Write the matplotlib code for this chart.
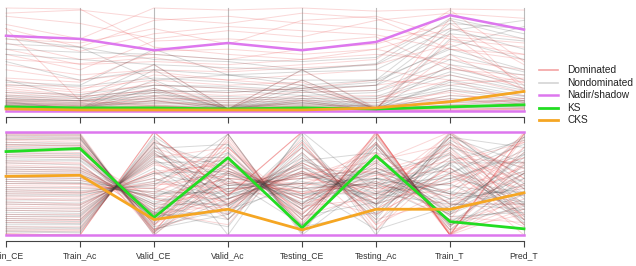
import matplotlib
matplotlib.use("Agg")
import matplotlib.pyplot as plt
from matplotlib.lines import Line2D

plt.rcParams['font.family'] = ['Liberation Sans', 'DejaVu Sans']

axes_names = ["Train_CE", "Train_Ac", "Valid_CE", "Valid_Ac",
              "Testing_CE", "Testing_Ac", "Train_T", "Pred_T"]

# ---------------- top panel (scaled raw values) ----------------
top_dominated = [
    [1.00, 0.99, 0.62, 0.55, 0.50, 0.60, 0.80, 0.70],
    [0.92, 0.85, 0.70, 0.78, 0.72, 0.88, 0.95, 0.90],
    [0.84, 0.70, 1.00, 0.98, 1.00, 0.97, 0.99, 0.98],
    [0.80, 0.62, 0.88, 0.92, 0.85, 0.80, 0.70, 0.62],
    [0.74, 0.58, 0.75, 0.82, 0.78, 0.74, 0.60, 0.55],
    [0.66, 0.50, 0.55, 0.50, 0.60, 0.65, 0.85, 0.45],
    [0.60, 0.45, 0.48, 0.45, 0.50, 0.55, 0.50, 0.40],
    [0.55, 0.40, 0.68, 0.70, 0.66, 0.72, 0.40, 0.35],
    [0.45, 0.35, 0.40, 0.38, 0.42, 0.45, 0.65, 0.30],
    [0.40, 0.30, 0.38, 0.30, 0.35, 0.40, 0.30, 0.28],
    [0.32, 0.28, 0.58, 0.60, 0.55, 0.60, 0.45, 0.22],
    [0.30, 0.22, 0.30, 0.25, 0.28, 0.02, 0.75, 0.25],
    [0.26, 0.20, 0.45, 0.02, 0.40, 0.03, 0.55, 0.20],
    [0.24, 0.18, 0.25, 0.22, 0.20, 0.25, 0.35, 0.18],
    [0.22, 0.15, 0.35, 0.30, 0.25, 0.02, 0.20, 0.15],
    [0.20, 0.14, 0.20, 0.18, 0.22, 0.30, 0.25, 0.32],
    [0.18, 0.12, 0.28, 0.02, 0.30, 0.02, 0.15, 0.12],
    [0.16, 0.10, 0.18, 0.15, 0.18, 0.20, 0.42, 0.28],
    [0.14, 0.09, 0.22, 0.02, 0.10, 0.01, 0.90, 0.20],
    [0.12, 0.08, 0.15, 0.12, 0.14, 0.15, 0.10, 0.10],
    [0.11, 0.07, 0.12, 0.10, 0.12, 0.12, 0.30, 0.08],
    [0.10, 0.06, 0.10, 0.02, 0.08, 0.01, 0.05, 0.12],
    [0.09, 0.05, 0.14, 0.08, 0.10, 0.08, 0.18, 0.06],
    [0.08, 0.05, 0.08, 0.06, 0.06, 0.05, 0.08, 0.10],
    [0.07, 0.04, 0.06, 0.02, 0.05, 0.02, 0.12, 0.05],
    [0.06, 0.04, 0.10, 0.05, 0.04, 0.01, 0.02, 0.08],
    [0.05, 0.03, 0.05, 0.03, 0.03, 0.03, 0.06, 0.04],
    [0.04, 0.03, 0.04, 0.02, 0.02, 0.01, 0.01, 0.03],
    [0.04, 0.02, 0.03, 0.02, 0.02, 0.02, 0.03, 0.02],
    [0.03, 0.02, 0.03, 0.01, 0.01, 0.01, 0.01, 0.02],
    [0.80, 0.10, 0.05, 0.02, 0.04, 0.02, 0.68, 0.55],
    [0.95, 0.98, 0.90, 0.85, 0.95, 0.90, 0.60, 0.50],
    [0.70, 0.66, 0.80, 0.65, 0.88, 0.92, 0.72, 0.66],
    [0.50, 0.46, 0.52, 0.40, 0.45, 0.50, 0.98, 0.48],
    [0.03, 0.01, 0.02, 0.01, 0.02, 0.01, 0.00, 0.01],
    [0.05, 0.02, 0.04, 0.02, 0.03, 0.02, 0.00, 0.02],
]
top_nondominated = [
    [0.65, 0.62, 0.30, 0.35, 0.30, 0.30, 0.85, 0.80],
    [0.60, 0.57, 0.55, 0.50, 0.48, 0.52, 0.88, 0.70],
    [0.55, 0.50, 0.45, 0.42, 0.40, 0.45, 0.80, 0.60],
    [0.48, 0.30, 0.40, 0.35, 0.38, 0.40, 0.75, 0.68],
    [0.30, 0.12, 0.45, 0.02, 0.40, 0.02, 0.70, 0.50],
    [0.28, 0.25, 0.60, 0.35, 0.25, 0.30, 0.60, 0.40],
    [0.25, 0.24, 0.32, 0.28, 0.22, 0.25, 0.55, 0.38],
    [0.18, 0.16, 0.25, 0.22, 0.18, 0.20, 0.50, 0.30],
    [0.15, 0.14, 0.20, 0.02, 0.30, 0.02, 0.45, 0.35],
    [0.14, 0.12, 0.18, 0.20, 0.15, 0.18, 0.42, 0.25],
    [0.12, 0.10, 0.15, 0.14, 0.12, 0.14, 0.38, 0.22],
    [0.10, 0.10, 0.12, 0.12, 0.10, 0.12, 0.35, 0.20],
    [0.09, 0.02, 0.40, 0.02, 0.20, 0.02, 0.30, 0.18],
    [0.08, 0.02, 0.22, 0.02, 0.25, 0.02, 0.28, 0.15],
    [0.08, 0.07, 0.10, 0.10, 0.08, 0.10, 0.25, 0.14],
    [0.07, 0.06, 0.08, 0.08, 0.07, 0.08, 0.22, 0.12],
    [0.06, 0.05, 0.07, 0.06, 0.06, 0.06, 0.20, 0.10],
    [0.06, 0.02, 0.30, 0.02, 0.15, 0.02, 0.15, 0.10],
    [0.05, 0.04, 0.05, 0.05, 0.05, 0.05, 0.12, 0.09],
    [0.05, 0.02, 0.18, 0.02, 0.12, 0.02, 0.10, 0.08],
    [0.04, 0.03, 0.04, 0.04, 0.04, 0.04, 0.08, 0.07],
    [0.04, 0.02, 0.14, 0.02, 0.10, 0.01, 0.06, 0.06],
    [0.03, 0.02, 0.03, 0.03, 0.03, 0.03, 0.05, 0.05],
    [0.03, 0.02, 0.10, 0.02, 0.08, 0.01, 0.04, 0.04],
    [0.02, 0.02, 0.02, 0.02, 0.02, 0.02, 0.03, 0.03],
    [0.70, 0.62, 0.50, 0.48, 0.40, 0.46, 0.90, 0.75],
    [0.12, 0.10, 0.25, 0.24, 0.20, 0.25, 0.78, 0.88],
    [0.10, 0.08, 0.20, 0.18, 0.22, 0.28, 0.62, 0.82],
]
top_nadir = [0.73, 0.70, 0.59, 0.66, 0.59, 0.67, 0.93, 0.79]
top_ideal = [0.00, 0.00, 0.00, 0.00, 0.00, 0.00, 0.00, 0.00]
top_ks = [0.04, 0.03, 0.03, 0.02, 0.03, 0.02, 0.04, 0.06]
top_cks = [0.02, 0.01, 0.01, 0.01, 0.01, 0.03, 0.09, 0.19]

# ---------------- bottom panel (min-max normalised) ----------------
bot_dominated = [
    [0.98, 0.97, 0.00, 0.55, 0.20, 0.80, 0.05, 0.70],
    [0.95, 0.94, 0.05, 0.40, 0.70, 0.35, 0.95, 0.20],
    [0.92, 0.90, 0.10, 0.75, 0.15, 0.90, 0.00, 0.95],
    [0.88, 0.86, 0.20, 0.30, 0.85, 0.20, 0.60, 0.45],
    [0.85, 0.84, 0.02, 0.95, 0.05, 0.98, 0.02, 0.30],
    [0.80, 0.78, 0.15, 0.60, 0.40, 0.55, 0.80, 0.10],
    [0.76, 0.75, 0.35, 0.20, 0.90, 0.10, 0.45, 0.65],
    [0.72, 0.70, 0.12, 0.85, 0.25, 0.70, 0.30, 0.85],
    [0.68, 0.66, 0.25, 0.50, 0.55, 0.45, 0.98, 0.55],
    [0.64, 0.63, 0.30, 0.65, 0.35, 0.62, 0.15, 0.05],
    [0.60, 0.60, 0.22, 0.10, 0.95, 0.05, 0.70, 0.90],
    [0.56, 0.55, 0.40, 0.78, 0.20, 0.85, 0.10, 0.35],
    [0.52, 0.50, 0.38, 0.35, 0.60, 0.30, 0.55, 0.75],
    [0.48, 0.47, 0.45, 0.90, 0.10, 0.95, 0.00, 0.50],
    [0.44, 0.42, 0.50, 0.45, 0.45, 0.50, 0.85, 0.15],
    [0.40, 0.40, 0.55, 0.25, 0.80, 0.15, 0.35, 0.98],
    [0.36, 0.35, 0.60, 0.70, 0.30, 0.75, 0.20, 0.60],
    [0.32, 0.30, 0.62, 0.15, 0.75, 0.25, 0.65, 0.25],
    [0.28, 0.27, 0.68, 0.55, 0.50, 0.40, 0.90, 0.40],
    [0.24, 0.23, 0.70, 0.40, 0.65, 0.60, 0.25, 0.80],
    [0.20, 0.20, 0.75, 0.85, 0.15, 0.90, 0.05, 0.20],
    [0.16, 0.15, 0.80, 0.30, 0.70, 0.35, 0.75, 0.70],
    [0.12, 0.12, 0.85, 0.60, 0.40, 0.65, 0.40, 0.08],
    [0.08, 0.08, 0.88, 0.20, 0.90, 0.10, 0.95, 0.45],
    [0.04, 0.04, 0.92, 0.50, 0.60, 0.45, 0.50, 0.90],
    [0.01, 0.00, 1.00, 0.38, 1.00, 1.00, 0.00, 0.98],
    [0.01, 0.00, 1.00, 0.38, 1.00, 1.00, 0.00, 0.98],
    [0.01, 0.00, 1.00, 0.38, 1.00, 1.00, 0.00, 0.98],
    [0.90, 0.88, 0.08, 0.98, 0.02, 1.00, 0.00, 0.60],
    [0.70, 0.69, 0.18, 0.92, 0.08, 1.00, 0.00, 0.25],
    [0.50, 0.49, 0.42, 0.65, 0.25, 0.97, 0.02, 0.85],
    [0.35, 0.33, 0.58, 0.82, 0.12, 0.99, 0.00, 0.40],
    [0.62, 0.62, 0.28, 0.45, 0.50, 0.70, 1.00, 0.15],
    [0.26, 0.25, 0.72, 0.28, 0.85, 0.30, 1.00, 0.55],
    [0.82, 0.80, 0.05, 0.70, 0.30, 0.50, 0.15, 1.00],
    [0.46, 0.45, 0.48, 0.58, 0.38, 0.20, 0.60, 0.00],
    [0.14, 0.14, 0.82, 0.48, 0.55, 0.80, 0.30, 0.30],
    [0.97, 0.96, 0.03, 0.85, 0.18, 0.40, 0.50, 0.75],
    [0.58, 0.57, 0.35, 0.25, 0.68, 0.05, 0.88, 0.65],
    [0.38, 0.37, 0.52, 0.75, 0.22, 0.68, 0.18, 0.12],
    [0.99, 0.99, 0.02, 0.62, 0.35, 0.58, 0.72, 0.48],
    [0.87, 0.87, 0.10, 0.52, 0.42, 0.48, 0.38, 0.62],
    [0.78, 0.76, 0.20, 0.35, 0.58, 0.62, 0.82, 0.28],
    [0.66, 0.65, 0.24, 0.72, 0.28, 0.35, 0.45, 0.92],
    [0.54, 0.53, 0.36, 0.55, 0.48, 0.58, 0.62, 0.18],
    [0.42, 0.41, 0.46, 0.32, 0.62, 0.42, 0.78, 0.52],
    [0.30, 0.29, 0.62, 0.68, 0.40, 0.52, 0.28, 0.68],
    [0.18, 0.17, 0.78, 0.42, 0.58, 0.72, 0.88, 0.38],
    [0.06, 0.05, 0.90, 0.62, 0.45, 0.88, 0.08, 0.72],
    [0.93, 0.92, 0.05, 0.30, 0.62, 0.25, 0.65, 0.10],
]
bot_nondominated = [
    [0.99, 0.98, 0.00, 0.60, 0.30, 0.90, 0.10, 0.40],
    [0.96, 0.95, 0.04, 0.35, 0.75, 0.30, 0.85, 0.30],
    [0.93, 0.93, 0.10, 0.80, 0.10, 0.95, 0.05, 0.55],
    [0.90, 0.89, 0.15, 0.45, 0.60, 0.40, 0.70, 0.70],
    [0.86, 0.85, 0.08, 0.25, 0.92, 0.20, 0.95, 0.85],
    [0.83, 0.82, 0.20, 0.70, 0.20, 0.75, 0.30, 0.25],
    [0.78, 0.77, 0.15, 0.55, 0.45, 0.50, 0.55, 0.40],
    [0.74, 0.73, 0.25, 0.38, 0.65, 0.35, 0.80, 0.18],
    [0.70, 0.68, 0.20, 0.88, 0.05, 0.85, 0.12, 0.60],
    [0.66, 0.65, 0.32, 0.48, 0.50, 0.55, 0.40, 0.95],
    [0.62, 0.61, 0.28, 0.15, 0.85, 0.25, 0.90, 0.35],
    [0.58, 0.58, 0.36, 0.68, 0.28, 0.70, 0.22, 0.78],
    [0.54, 0.53, 0.40, 0.42, 0.58, 0.45, 0.65, 0.20],
    [0.50, 0.50, 0.45, 0.20, 0.78, 0.15, 0.98, 0.50],
    [0.46, 0.46, 0.42, 0.40, 0.40, 0.40, 0.30, 0.30],
    [0.42, 0.41, 0.52, 0.80, 0.15, 0.88, 0.08, 0.68],
    [0.38, 0.38, 0.55, 0.35, 0.62, 0.30, 0.75, 0.10],
    [0.34, 0.34, 0.60, 0.62, 0.35, 0.65, 0.35, 0.45],
    [0.30, 0.29, 0.65, 0.22, 0.80, 0.18, 0.85, 0.65],
    [0.26, 0.26, 0.70, 0.72, 0.25, 0.78, 0.18, 0.22],
    [0.22, 0.21, 0.74, 0.30, 0.70, 0.40, 0.60, 0.88],
    [0.18, 0.18, 0.78, 0.58, 0.45, 0.55, 0.48, 0.38],
    [0.14, 0.13, 0.82, 0.42, 0.68, 0.28, 0.92, 0.58],
    [0.10, 0.10, 0.86, 0.15, 0.88, 0.12, 0.70, 0.15],
    [0.06, 0.06, 0.90, 0.65, 0.30, 0.72, 0.25, 0.75],
    [0.03, 0.02, 0.96, 0.48, 0.55, 0.60, 0.42, 0.32],
    [0.88, 0.87, 0.12, 0.98, 0.00, 0.55, 0.20, 0.80],
    [0.72, 0.72, 0.22, 0.08, 0.98, 0.00, 1.00, 0.45],
    [0.60, 0.59, 0.30, 0.30, 0.72, 0.80, 0.60, 0.95],
    [0.44, 0.43, 0.48, 0.98, 0.02, 0.88, 0.10, 0.28],
    [0.20, 0.19, 0.76, 0.75, 0.18, 0.32, 0.95, 0.70],
    [0.08, 0.07, 0.90, 0.00, 1.00, 0.42, 0.50, 0.15],
    [0.80, 0.79, 0.18, 0.25, 0.48, 0.05, 0.28, 0.55],
    [0.52, 0.51, 0.38, 0.55, 0.10, 0.48, 0.15, 0.25],
    [0.94, 0.94, 0.06, 0.20, 0.55, 0.65, 0.40, 0.30],
    [0.12, 0.11, 0.84, 0.88, 0.08, 0.22, 0.72, 0.92],
    [0.97, 0.97, 0.02, 0.70, 0.25, 0.62, 0.35, 0.62],
    [0.84, 0.83, 0.14, 0.40, 0.52, 0.38, 0.58, 0.32],
    [0.76, 0.75, 0.22, 0.62, 0.38, 0.52, 0.20, 0.50],
    [0.64, 0.63, 0.30, 0.50, 0.42, 0.60, 0.78, 0.12],
    [0.56, 0.55, 0.36, 0.28, 0.66, 0.30, 0.52, 0.82],
    [0.40, 0.39, 0.50, 0.60, 0.32, 0.55, 0.40, 0.42],
    [0.32, 0.31, 0.60, 0.45, 0.50, 0.48, 0.68, 0.28],
    [0.24, 0.23, 0.72, 0.52, 0.38, 0.62, 0.22, 0.60],
    [0.16, 0.15, 0.80, 0.35, 0.60, 0.35, 0.55, 0.78],
    [0.04, 0.03, 0.94, 0.28, 0.72, 0.50, 0.32, 0.48],
]
bot_nadir = [1.00, 1.00, 1.00, 1.00, 1.00, 1.00, 1.00, 1.00]
bot_ideal = [0.00, 0.00, 0.00, 0.00, 0.00, 0.00, 0.00, 0.00]
bot_ks = [0.81, 0.84, 0.17, 0.75, 0.07, 0.77, 0.13, 0.06]
bot_cks = [0.57, 0.58, 0.15, 0.25, 0.05, 0.25, 0.25, 0.41]

legend_labels = ["Dominated", "Nondominated", "Nadir/shadow", "KS", "CKS"]

# ---------------- styles ----------------
C_DOM = (0.92, 0.35, 0.35, 0.24)
C_NON = (0.25, 0.25, 0.25, 0.20)
C_NADIR = "#dd77ee"
C_KS = "#22dd22"
C_CKS = "#f5a623"
C_AXIS = "#bbbbbb"

W, H = 636, 266
fig = plt.figure(figsize=(W / 100, H / 100), dpi=100)

x = list(range(len(axes_names)))


def panel(rect_px, dom, non, nadir, ideal, ks, cks, labels):
    left, top, right, bottom = rect_px
    ax = fig.add_axes([left / W, 1 - bottom / H, (right - left) / W, (bottom - top) / H])
    ax.set_xlim(0, len(axes_names) - 1)
    ax.set_ylim(0, 1)
    for xi in x:
        ax.plot([xi, xi], [0, 1], color=C_AXIS, lw=0.8, zorder=1, clip_on=False)
    for row in dom:
        ax.plot(x, row, color=C_DOM, lw=0.7, zorder=2, clip_on=False)
    for row in non:
        ax.plot(x, row, color=C_NON, lw=0.7, zorder=3, clip_on=False)
    ax.plot(x, nadir, color=C_NADIR, lw=1.8, zorder=5, clip_on=False)
    ax.plot(x, ideal, color=C_NADIR, lw=1.8, zorder=5, clip_on=False)
    ax.plot(x, ks, color=C_KS, lw=2.0, zorder=6, clip_on=False)
    ax.plot(x, cks, color=C_CKS, lw=2.0, zorder=7, clip_on=False)
    for s in ["top", "left", "right"]:
        ax.spines[s].set_visible(False)
    ax.spines["bottom"].set_position(("outward", 4))
    ax.spines["bottom"].set_color("#444444")
    ax.spines["bottom"].set_linewidth(0.8)
    ax.set_yticks([])
    ax.set_xticks(x)
    ax.tick_params(axis="x", direction="out", length=4, width=0.8, color="#444444",
                   labelsize=6.2, pad=4, labelcolor="#333333")
    if labels:
        ax.set_xticklabels(axes_names)
    else:
        ax.set_xticklabels([])
    return ax


panel((6, 8, 524, 111), top_dominated, top_nondominated, top_nadir, top_ideal,
      top_ks, top_cks, False)
panel((6, 132, 524, 235), bot_dominated, bot_nondominated, bot_nadir, bot_ideal,
      bot_ks, bot_cks, True)

# ---------------- legend ----------------
leg_colors = ["#f4a3a3", "#d4d4d4", C_NADIR, C_KS, C_CKS]
leg_widths = [1.2, 1.2, 1.8, 2.0, 2.0]
leg_y = [70, 82.6, 95.2, 107.8, 120.4]
for lab, col, lw, yy in zip(legend_labels, leg_colors, leg_widths, leg_y):
    fig.add_artist(Line2D([539 / W, 558 / W], [1 - yy / H, 1 - yy / H],
                          color=col, lw=lw, transform=fig.transFigure))
    fig.text(567 / W, 1 - yy / H, lab, fontsize=7.3, va="center", ha="left",
             color="#222222")

fig.savefig("out.png", dpi=100)
